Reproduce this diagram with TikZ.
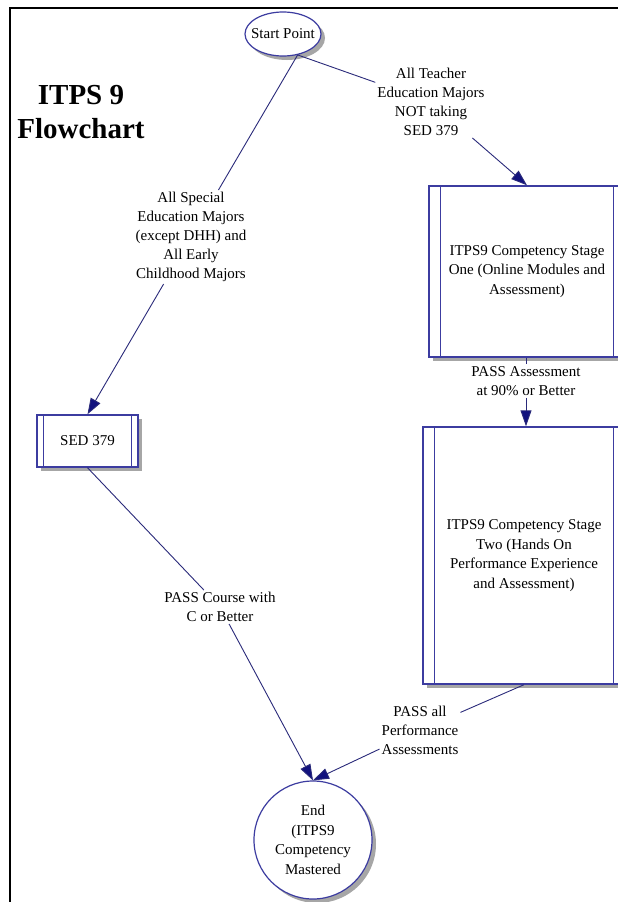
\documentclass[tikz,border=0pt]{standalone}
\usepackage{fontspec}
\setmainfont{Liberation Serif}
\usetikzlibrary{arrows.meta,shapes.geometric,shadows,calc}
\definecolor{boxblue}{HTML}{3C3CA0}
\definecolor{lineblue}{HTML}{2A2A7A}
\definecolor{headblue}{HTML}{12127E}
\definecolor{shadowgray}{HTML}{A6A6A6}
\begin{document}
\begin{tikzpicture}[x=1pt,y=-1pt,
  lbl/.style={align=center,font=\fontsize{15}{19}\selectfont,inner sep=2pt},
  ln/.style={draw=lineblue,line width=0.9pt},
  arr/.style={ln,-{Triangle[length=16pt,width=11pt,fill=headblue]}},
  sh/.style={drop shadow={shadow xshift=4pt,shadow yshift=-4pt,fill=shadowgray,opacity=1}},
  proc/.style={draw=boxblue,line width=1.4pt,fill=white,sh,align=center,
    font=\fontsize{15}{19.5}\selectfont,inner sep=0pt},
  term/.style={draw=boxblue,line width=1.2pt,fill=white,sh,align=center,
    font=\fontsize{15}{19.5}\selectfont,inner sep=0pt},
  inner/.style={draw=boxblue,line width=1.2pt},
  border/.style={draw=black,line width=2.6pt}
]
\useasboundingbox (0,0) rectangle (618,902);
\clip (0,0) rectangle (618,902);
\fill[white] (0,0) rectangle (618,902);

% frame
\draw[border] (10,910) -- (10,8) -- (630,8);

% title
\node[align=center,font=\bfseries\fontsize{29}{34}\selectfont,inner sep=0pt] (title) at (81,112) {ITPS 9\\Flowchart};

% nodes
\node[term,ellipse,minimum width=76,minimum height=44,
  label={[font=\fontsize{15}{19}\selectfont,inner sep=0pt]center:Start Point}] (start) at (283,34) {};

\node[proc,minimum width=196,minimum height=171] (s1) at (527,271.5)
  {ITPS9 Competency Stage\\One (Online Modules and\\Assessment)};
\draw[inner] ($(s1.north west)+(12,0)$) -- ($(s1.south west)+(12,0)$);
\draw[inner] ($(s1.north east)+(-12,0)$) -- ($(s1.south east)+(-12,0)$);

\node[proc,minimum width=202,minimum height=257] (s2) at (524,555.5)
  {ITPS9 Competency Stage\\Two (Hands On\\Performance Experience\\and Assessment)};
\draw[inner] ($(s2.north west)+(12,0)$) -- ($(s2.south west)+(12,0)$);
\draw[inner] ($(s2.north east)+(-12,0)$) -- ($(s2.south east)+(-12,0)$);

\node[proc,minimum width=101,minimum height=52] (sed) at (87.5,441) {SED 379};
\draw[inner] ($(sed.north west)+(7,0)$) -- ($(sed.south west)+(7,0)$);
\draw[inner] ($(sed.north east)+(-7,0)$) -- ($(sed.south east)+(-7,0)$);

\node[term,circle,minimum size=118] (end) at (313,840)
  {End\\(ITPS9\\Competency\\Mastered};

% labels
\node[lbl] (labR) at (431,102) {All Teacher\\Education Majors\\NOT taking\\SED 379};
\node[lbl] (labL) at (191,237) {All Special\\Education Majors\\(except DHH) and\\All Early\\Childhood Majors};
\node[lbl] (labM) at (526,381) {PASS Assessment\\at 90\% or Better};
\node[lbl] (labBL) at (220,607) {PASS Course with\\C or Better};
\node[lbl] (labBR) at (420,730) {PASS all\\Performance\\Assessments};

% connectors
\draw[ln] (start.-55) -- (labR);
\draw[arr] (labR) -- (s1.north);
\draw[ln] (start.-55) -- (labL);
\draw[arr] (labL) -- (sed.north);
\draw[ln] (s1.south -| labM) -- (labM);
\draw[arr] (labM) -- (labM |- s2.north);
\draw[ln] (sed.south) -- (labBL);
\draw[arr] (labBL) -- (end.north);
\draw[ln] (s2.south) -- (labBR);
\draw[arr] (labBR) -- (end.north);
\end{tikzpicture}
\end{document}
